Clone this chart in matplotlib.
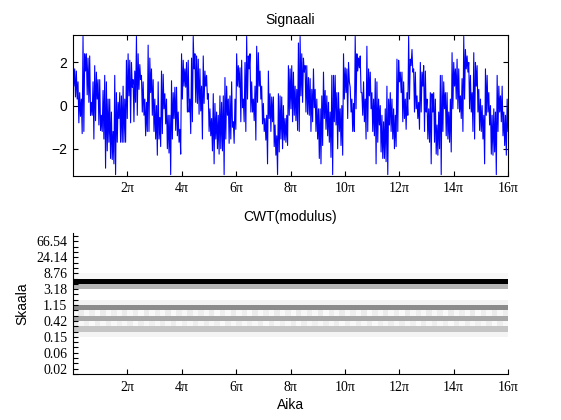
import numpy as np
import matplotlib
matplotlib.use("Agg")
import matplotlib.pyplot as plt

# signal, (high, low) per ~1.7 px column, 0 .. 16*pi
signal = [
    # 0 .. ~3.2pi
    2.3, 0.9, 1.7, 0.4, 1.6, 0.3, 1.1, -0.8, 0.6, -0.5, 0.3, -1.3, 3.2, -1.2, 2.4, 1.6, 2.4, 0.5, 2.2, 0.15,
    2.3, -0.45, 0.15, -0.45, 1.1, -1.55, 1.85, -0.7, 1.55, 0.3, 1.2, -0.9, 1.2, -1.15, -0.45, -1.2, 0.7, -1.55, 1.4, -2.9,
    1.1, -2.1, 0.3, -1.7, 0.3, -2.45, -0.3, -2.5, -1.2, -2.7, 1.4, -3.2, 0.6, -1.7, 0.15, -0.6, 0.6, -1.7, 0.45, -1.7,
    0.9, -1.7, 0.3, -1.7, 2.1, -0.6, 2.4, 0.45, 2.1, -0.8, 2.0, 0.85, 1.2, -0.75, 1.6, 0.15, 3.2, -0.45, 2.4, 0.75,
    1.9, 1.2, 1.4, -0.3, 1.1, -0.45, 0.3, -1.4, 0.15, -1.2, 2.8, -1.2, 2.2, 0.6, 1.7, -0.45, 1.2, -1.2, 0.3, -1.55,
    0.0, -2.3, 1.1, -1.55,
    # ~3.2pi .. ~6.4pi
    -0.55, -1.9, 1.6, -1.3, 1.45, -0.15, 0.55, -0.85, 0.3, -2.0, -0.45, -2.2, -0.45, -3.2, 1.15, -1.55, 0.6, -0.6, 0.85, -1.15,
    0.85, -1.4, -0.3, -1.7, -1.1, -2.25, 2.4, 0.3, 2.1, 0.9, 1.7, 0.85, 2.0, -0.3, 2.1, -0.3, 0.3, -1.3, 2.2, -0.75,
    3.2, 1.7, 2.4, 0.15, 2.3, 0.1, 2.15, -0.4, 1.7, -0.25, 0.9, -1.55, 2.3, 0.1, 1.6, 0.9, 1.4, 0.3, 0.55, -1.2,
    -0.15, -1.4, -0.6, -2.1, 0.55, -2.7, 0.1, -1.55, -0.3, -2.0, -0.45, -2.25, 0.45, -2.0, 0.15, -2.1, 0.45, -3.2, 1.3, -1.55,
    0.9, -0.45, 0.3, -1.75, 0.45, -1.55, 1.1, -1.0, -0.75, -1.75, 0.3, -1.1, 2.4, 0.9, 1.85, 0.85, 1.75, -0.75, 2.1, -0.1,
    0.3, -0.75, 2.0, -1.2, 3.2, 0.3,
    # ~6.4pi .. ~9.6pi
    2.3, 1.7, 2.4, -0.3, 1.1, -0.3, 0.3, -0.7, 0.9, -1.6, 2.75, 0.15, 2.45, 0.9, 1.6, 0.3, 0.9, -0.85, 0.1, -1.2,
    -0.6, -1.6, -0.45, -2.7, 1.6, -0.6, 0.55, -1.2, 0.4, -0.75, 0.4, -1.9, -0.9, -2.3, -1.4, -3.2, 0.55, -2.15, 0.45, -1.55,
    0.4, -2.0, 0.0, -1.6, -0.6, -1.7, -0.45, -1.85, 1.85, -0.45, 1.7, -0.15, 1.85, -0.75, 1.55, -0.45, 0.9, -0.7, 0.75, -1.15,
    2.9, -1.2, 3.2, 0.45, 2.4, 0.15, 2.2, 1.55, 1.85, -0.3, 1.85, -0.4, 1.3, -0.45, 1.25, -1.2, 0.75, -0.75, 1.7, -0.1,
    0.75, -1.2, 0.3, -1.55, -0.15, -2.45, -0.15, -2.7, 0.45, -1.85, 1.55, -0.6, 0.7, -1.1, 0.45, -1.4, 0.15, -1.7, -0.3, -2.4,
    1.4, -3.2, 1.4, -0.75,
    # ~9.6pi .. ~12.8pi
    1.4, -0.9, 0.6, -2.0, 0.6, -1.2, -0.15, -1.85, 0.0, -2.3, 2.4, 0.3, 1.75, 0.6, 1.7, -0.6, 2.0, 1.1, 0.85, -0.3,
    0.3, -1.2, 0.1, -1.2, 3.2, -0.15, 2.4, 1.6, 2.2, 1.75, 2.3, 0.6, 0.6, -0.45, 1.1, -0.75, 0.3, -1.55, 2.75, -1.2,
    1.7, 0.45, 1.55, -0.15, 0.6, -1.2, 0.3, -1.4, 1.25, -2.7, 1.1, -1.7, 0.3, -0.9, 0.0, -2.15, -0.45, -2.45, -0.75, -2.45,
    -0.15, -2.6, 0.9, -3.2, 0.3, -0.9, 0.6, -1.2, 0.3, -1.55, -0.15, -2.0, -0.45, -1.9, 2.15, -1.2, 2.1, 1.1, 1.55, 0.6,
    1.55, -0.75, 1.1, -0.6, 0.3, -1.1, 0.6, -0.45, 3.2, 0.3, 2.15, 1.85, 2.6, 1.55, 1.7, -0.3, 1.55, -0.15, 0.45, -0.6,
    0.15, -1.1, 2.0, -0.3, 1.55, 0.9,
    # ~12.8pi .. 16pi
    1.85, -1.2, 1.6, -0.3, 0.3, -1.55, -0.15, -1.7, 0.6, -2.7, 0.55, -0.3, 0.6, -1.7, 0.3, -2.25, -0.9, -2.3, -0.3, -2.0,
    1.4, -3.2, 1.4, -1.2, 1.1, -0.15, 0.6, -1.4, 0.6, -1.55, -0.3, -1.7, 0.3, -2.15, 2.45, -0.15, 2.0, 0.9, 1.7, 0.3,
    2.15, -0.15, 1.7, -0.3, 0.45, -0.6, 1.25, -1.2, 3.2, 0.3, 2.6, 1.7, 2.3, 1.55, 2.0, -0.15, 1.4, -0.3, 0.6, -1.2,
    2.45, -1.55, 2.0, 0.9, 1.85, -0.3, 0.75, -1.15, 0.3, -1.2, 0.0, -1.55, -0.45, -2.7, 1.7, -0.45, 1.4, -0.3, 0.6, -0.9,
    0.0, -2.25, -0.45, -2.3, -0.15, -2.15, -0.3, -3.2, 1.4, -1.2, 0.9, -0.3, 0.45, -0.75, 0.9, -1.4, -0.3, -1.85, -0.45, -2.3,
    0.3, -1.2,
]

# cwt modulus, one level per scale row (row 0 = smallest scale), grey level 0..1
row_levels = [0, 0, 0, 0, 0, 0, 0, 0.045, 0.23, 0.05, 0.34, 0.05, 0.45, 0.05,
              0, 0, 0.29, 1.0, 0.03, 0, 0, 0, 0, 0, 0, 0, 0]
# the two rows between bands vary a little along time
row9_levels = [0.07, 0.03, 0.06, 0.02, 0.07, 0.03, 0.07, 0.03, 0.06, 0.03, 0.07, 0.02, 0.07, 0.03, 0.06, 0.03,
               0.07, 0.03, 0.07, 0.02, 0.06, 0.03, 0.07, 0.03, 0.07, 0.03, 0.06, 0.02, 0.07, 0.03, 0.07, 0.03,
               0.06, 0.03, 0.07, 0.02, 0.07, 0.03, 0.06, 0.03, 0.07, 0.02, 0.07, 0.03, 0.06, 0.03, 0.07, 0.03,
               0.07, 0.02, 0.06, 0.03, 0.07, 0.03, 0.07, 0.02, 0.06, 0.03, 0.07, 0.03, 0.07, 0.03, 0.06, 0.02,
               0.07, 0.03, 0.07, 0.03, 0.06, 0.02, 0.07, 0.03, 0.07, 0.03, 0.06, 0.03, 0.07, 0.02, 0.07, 0.03]
row11_levels = [0.03, 0.08, 0.03, 0.07, 0.02, 0.08, 0.03, 0.07, 0.03, 0.08, 0.03, 0.07, 0.02, 0.08, 0.03, 0.07,
                0.03, 0.08, 0.02, 0.07, 0.03, 0.08, 0.03, 0.07, 0.03, 0.08, 0.02, 0.07, 0.03, 0.08, 0.03, 0.07,
                0.02, 0.08, 0.03, 0.07, 0.03, 0.08, 0.03, 0.07, 0.02, 0.08, 0.03, 0.07, 0.03, 0.08, 0.02, 0.07,
                0.03, 0.08, 0.03, 0.07, 0.03, 0.08, 0.02, 0.07, 0.03, 0.08, 0.03, 0.07, 0.02, 0.08, 0.03, 0.07,
                0.03, 0.08, 0.03, 0.07, 0.02, 0.08, 0.03, 0.07, 0.03, 0.08, 0.02, 0.07, 0.03, 0.08, 0.03, 0.07]

scale_labels = ['0.02', '0.06', '0.15', '0.42', '1.15', '3.18', '8.76', '24.14', '66.54']
pi_labels = ['2π', '4π', '6π', '8π', '10π', '12π', '14π', '16π']
pi_ticks = [2, 4, 6, 8, 10, 12, 14, 16]

sans = ['Liberation Sans', 'DejaVu Sans']
serif = ['Liberation Serif', 'DejaVu Serif']
plt.rcParams['font.family'] = sans
plt.rcParams['font.size'] = 10

fig = plt.figure(figsize=(5.61, 4.2), dpi=100)

# ---- top: signal
ax1 = fig.add_axes([73 / 561, 1 - 175.5 / 420, 435 / 561, 140.5 / 420])
sig = np.array(signal)
t = np.linspace(0, 16 * np.pi, len(sig))
ax1.plot(t, sig, color='blue', lw=0.8)
ax1.set_xlim(0, 16 * np.pi)
ax1.set_ylim(-3.24, 3.27)
ax1.set_xticks([k * np.pi for k in pi_ticks])
ax1.set_xticklabels(pi_labels, family=serif, fontsize=10)
ax1.set_yticks([-2, 0, 2])
ax1.tick_params(direction='in', length=3.5, width=0.8, top=True, right=True)
ax1.tick_params(axis='x', pad=5)
ax1.tick_params(axis='y', pad=4)
for s in ax1.spines.values():
    s.set_linewidth(0.8)
ax1.set_title('Signaali', fontsize=10, pad=8)

# ---- bottom: cwt modulus
ax2 = fig.add_axes([73 / 561, 1 - 374 / 420, 435 / 561, 141 / 420])
ncols = len(row9_levels)
C = np.tile(np.array(row_levels, float)[:, None], (1, ncols))
C[9] = row9_levels
C[11] = row11_levels
xe = np.linspace(0, 16 * np.pi, ncols + 1)
ye = np.arange(len(row_levels) + 1)
ax2.pcolormesh(xe, ye, C, cmap='gray_r', vmin=0, vmax=1, shading='flat')
ax2.set_xlim(0, 16 * np.pi)
ax2.set_ylim(0, 26.6)
ax2.set_xticks([k * np.pi for k in pi_ticks])
ax2.set_xticklabels(pi_labels, family=serif, fontsize=10)
ax2.set_yticks(range(1, 26, 3))
ax2.set_yticklabels(scale_labels, family=serif, fontsize=10)
ax2.set_yticks(range(0, 27), minor=True)
ax2.tick_params(which='both', direction='in', length=3.5, width=0.8, pad=4)
ax2.tick_params(axis='x', pad=5)
ax2.spines['top'].set_visible(False)
ax2.spines['right'].set_visible(False)
ax2.spines['left'].set_linewidth(0.8)
ax2.spines['bottom'].set_linewidth(0.8)
ax2.set_title('CWT(modulus)', fontsize=10, pad=9)
ax2.set_ylabel('Skaala', fontsize=10, labelpad=5)
ax2.set_xlabel('Aika', fontsize=10, labelpad=3)

fig.savefig('out.png', dpi=100)
